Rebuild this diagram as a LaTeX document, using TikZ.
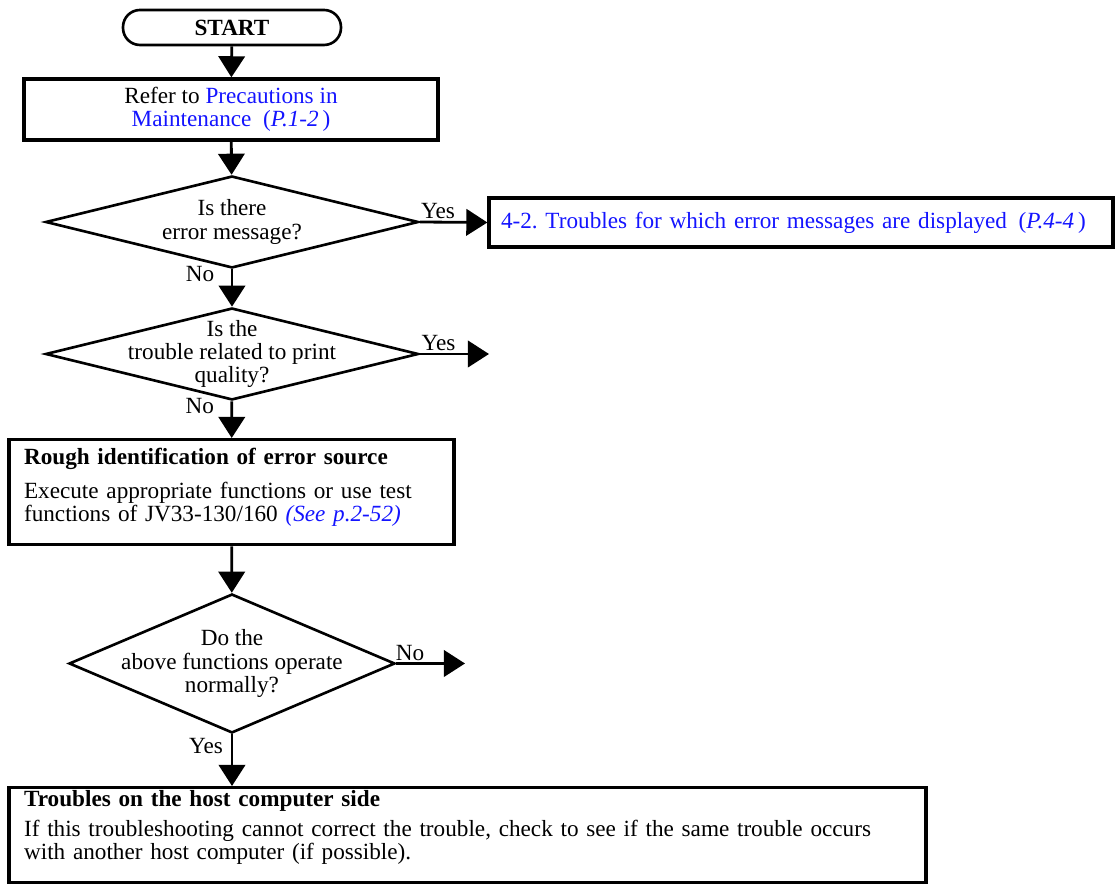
\documentclass[tikz,border=0pt]{standalone}
\usepackage{fontspec}
\setmainfont{Liberation Serif}
\usepackage{xcolor}
\usetikzlibrary{arrows.meta,shapes.geometric,positioning}
\definecolor{linkblue}{RGB}{20,20,255}

\begin{document}
\begin{tikzpicture}[x=0.02cm, y=-0.02cm,
  every node/.style={font=\fontsize{13.2}{13.2}\selectfont},
  terminal/.style={draw, line width=1.5pt, rounded corners=0.34cm, minimum width=4.36cm, minimum height=0.7cm, inner sep=0pt},
  process/.style={draw, line width=1.9pt, align=center, inner sep=0pt},
  infobox/.style={draw, line width=1.9pt, align=left, inner xsep=0.3cm, anchor=north},
  decision/.style={draw, diamond, line width=1.5pt, inner sep=0pt},
  flow/.style={line width=1.6pt, -{Triangle[width=15pt,length=12pt]}}]
\useasboundingbox (0,0) rectangle (1117,884);

\node[terminal] (start) at (232,27.5) {\bfseries START};
\node[process, minimum width=8.28cm, minimum height=1.22cm] (refer) at (231,109.5)
  {Refer to \textcolor{linkblue}{Precautions in}\\
   \textcolor{linkblue}{Maintenance\enspace(\textit{P.1-2}\,)}};
\node[decision, minimum width=7.46cm, minimum height=1.84cm,
  label={[align=center]center:Is there\\error message?}] (qerror) at (232,222) {};
\node[process, minimum width=12.48cm, minimum height=0.98cm, align=left, text width=12.0cm] (errmsg) at (801,222.5)
  {\textcolor{linkblue}{4-2.\ Troubles for which error messages are displayed\enspace(\textit{P.4-4}\,)}};
\node[decision, minimum width=7.46cm, minimum height=1.84cm,
  label={[align=center]center:Is the\\trouble related to print\\quality?}] (qprint) at (232,354) {};
\coordinate (printout) at (489,354);
\node[infobox, inner ysep=0.18cm, text width=8.3cm, minimum width=8.9cm] (rough) at (231.5,438)
  {{\bfseries Rough identification of error source}\par\vspace{6pt}
   Execute appropriate functions or use test\\
   functions of JV33-130/160 \textcolor{linkblue}{\textit{(See p.2-52)}}\par\vspace{5pt}\hrule height 0pt};
\node[decision, minimum width=6.52cm, minimum height=2.78cm,
  label={[align=center]center:Do the\\above functions operate\\normally?}] (qnormal) at (232,663.5) {};
\coordinate (notnormal) at (465,663.5);
\node[infobox, inner ysep=0.05cm, text width=17.74cm, minimum width=18.34cm] (host) at (467.5,786)
  {{\bfseries Troubles on the host computer side}\par\vspace{3.8pt}
   If this troubleshooting cannot correct the trouble, check to see if the same trouble occurs\\
   with another host computer (if possible).\par\vspace{9pt}\hrule height 0pt};

\draw[flow] (start) -- (refer);
\draw[flow] (refer) -- (qerror);
\draw[flow] (qerror.east) -- node[above, pos=0.27, inner sep=1pt] {Yes} (errmsg.west);
\draw[flow] (qerror) -- node[left=6pt, pos=0.12] {No} (qprint);
\draw[flow] (qprint.east) -- node[above, pos=0.27, inner sep=1pt] {Yes} (printout);
\draw[flow] (qprint) -- node[left=6pt, pos=0.13] {No} (rough);
\draw[flow] (rough) -- (qnormal);
\draw[flow] (qnormal.east) -- node[above, pos=0.2, inner sep=1pt] {No} (notnormal);
\draw[flow] (qnormal.south) -- node[left=1pt, pos=0.23] {Yes} (qnormal.south |- host.north);
\end{tikzpicture}
\end{document}
